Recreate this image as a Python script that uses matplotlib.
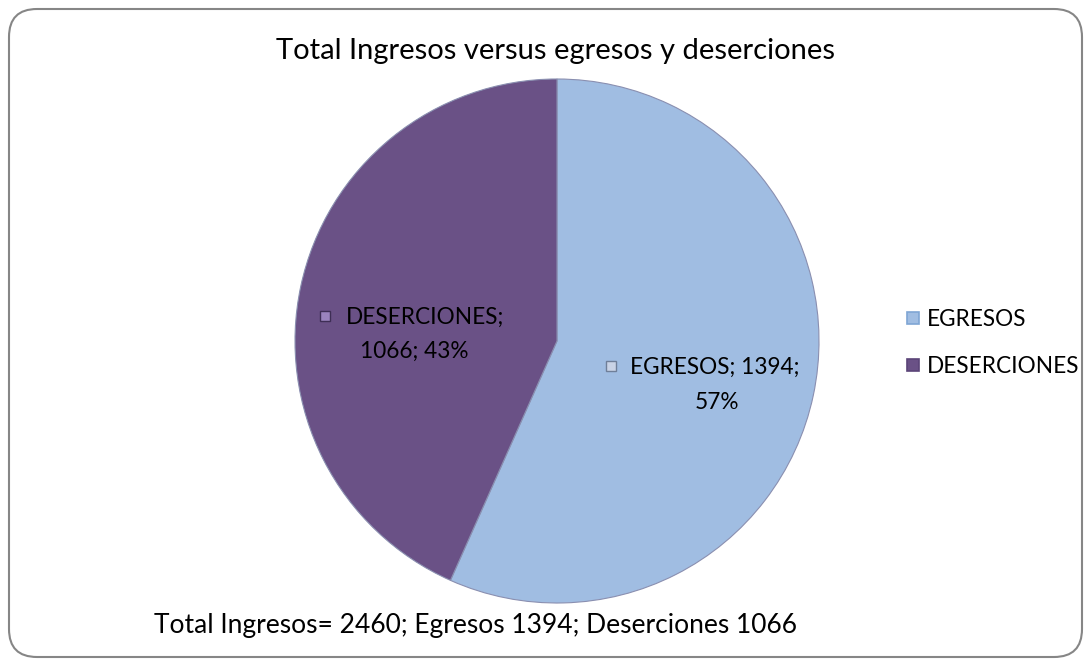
import matplotlib.pyplot as plt
from matplotlib.patches import FancyBboxPatch

categories = ["EGRESOS", "DESERCIONES"]
values = [1394, 1066]
colors = ["#A0BDE2", "#6A5186"]
title = "Total Ingresos versus egresos y deserciones"
footer = "Total Ingresos= 2460; Egresos 1394; Deserciones 1066"

W, H = 1091, 666
fig = plt.figure(figsize=(W / 100, H / 100), dpi=100)
plt.rcParams['font.family'] = ['Lato', 'DejaVu Sans']

# background axes in pixel units (y downward)
bg = fig.add_axes([0, 0, 1, 1])
bg.set_xlim(0, W)
bg.set_ylim(H, 0)
bg.axis('off')
bg.add_patch(FancyBboxPatch((9, 9), W - 18, H - 18,
                            boxstyle="round,pad=0,rounding_size=28",
                            fc="white", ec="#868686", lw=1.5))

# pie axes: center (557, 341), radius 262 px
cx, cy, r = 557, 341, 262
ax = fig.add_axes([(cx - r) / W, (H - cy - r) / H, 2 * r / W, 2 * r / H])
total = sum(values)
ax.pie(values, colors=colors, startangle=90, counterclock=False,
       wedgeprops=dict(edgecolor="#8A8FB0", linewidth=0.8))
ax.set_xlim(-1, 1)
ax.set_ylim(-1, 1)
ax.set_aspect('equal')
ax.axis('off')

# overlay for text
top = fig.add_axes([0, 0, 1, 1])
top.set_xlim(0, W)
top.set_ylim(H, 0)
top.axis('off')
top.patch.set_alpha(0)

top.text(556, 59, title, ha='center', va='baseline', fontsize=21, color='black')
top.text(154, 633, footer, ha='left', va='baseline', fontsize=19, color='black')

# data labels
fs = 16.3
pct = [round(v / total * 100) for v in values]
top.plot(611, 366, marker='s', ms=7.5, mfc="#C9D3E6", mec="#6F7F99", mew=1)
top.text(630, 374, f"{categories[0]}; {values[0]};", ha='left', va='baseline', fontsize=fs)
top.text(717, 409, f"{pct[0]}%", ha='center', va='baseline', fontsize=fs)
top.plot(325, 316, marker='s', ms=7.5, mfc="#9A83BD", mec="#3E2E55", mew=1)
top.text(346, 324, f"{categories[1]};", ha='left', va='baseline', fontsize=fs)
top.text(414, 358, f"{values[1]}; {pct[1]}%", ha='center', va='baseline', fontsize=fs)

# legend
for i, (c, lab) in enumerate(zip(categories, ["#7FA6D4", "#5B4478"])):
    y = 318 + i * 47
    top.plot(913, y, marker='s', ms=9, mfc=colors[i], mec=lab, mew=1.2)
    top.text(927, y + 8, c, ha='left', va='baseline', fontsize=fs)

fig.savefig("out.png", dpi=100)
